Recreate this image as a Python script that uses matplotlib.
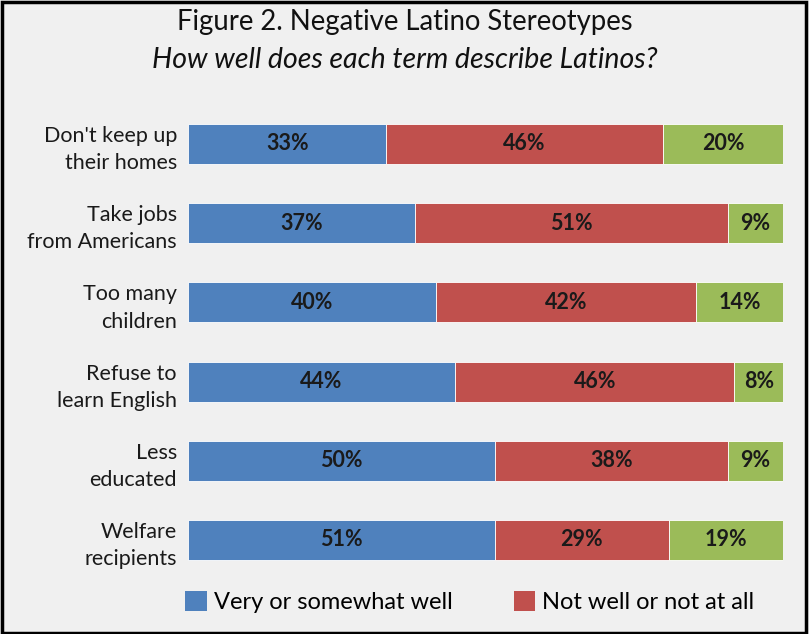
import matplotlib
matplotlib.use("Agg")
import matplotlib.pyplot as plt
from matplotlib.patches import Patch, Rectangle
import numpy as np

# values
categories = [
    "Don't keep up\ntheir homes",
    "Take jobs\nfrom Americans",
    "Too many\nchildren",
    "Refuse to\nlearn English",
    "Less\neducated",
    "Welfare\nrecipients",
]
well = [33, 37, 40, 44, 50, 51]
not_well = [46, 51, 42, 46, 38, 29]
other = [20, 9, 14, 8, 9, 19]

series_names = ["Very or somewhat well", "Not well or not at all", "Other"]
colors = ["#4f81bd", "#c0504d", "#9bbb59"]

BG = "#f0f0f0"
BODY = ["Lato", "DejaVu Sans"]

fig = plt.figure(figsize=(8.09, 6.34), dpi=100, facecolor=BG)
ax = fig.add_axes([188 / 809, 1 - 579.6 / 634, (783 - 188) / 809, 475.2 / 634])
ax.set_facecolor(BG)

vals = np.array([well, not_well, other], dtype=float)
shares = vals / vals.sum(axis=0) * 100   # bars are drawn normalized to 100%
y = np.arange(len(categories))
left = np.zeros(len(categories))
for k in range(3):
    ax.barh(y, shares[k], left=left, height=0.505, color=colors[k],
            edgecolor="white", linewidth=0.6)
    for i in range(len(categories)):
        ax.text(left[i] + shares[k][i] / 2, y[i], f"{int(vals[k][i])}%",
                ha="center", va="center", fontsize=15.5, fontweight="bold",
                color="#1a1a1a", family=BODY)
    left += shares[k]

ax.set_xlim(0, 100)
ax.set_ylim(len(categories) - 0.5, -0.5)
ax.set_yticks(y)
ax.set_yticklabels(categories, fontsize=15.5, color="#1a1a1a", family=BODY,
                   linespacing=1.45)
ax.tick_params(axis="y", length=0, pad=8)
ax.set_xticks([])
for s in ax.spines.values():
    s.set_visible(False)

fig.text(0.5, 1 - 22 / 634, "Figure 2. Negative Latino Stereotypes",
         ha="center", va="center", fontsize=19.8, family=BODY, color="#111111")
fig.text(0.5, 1 - 60 / 634, "How well does each term describe Latinos?",
         ha="center", va="center", fontsize=20.5, style="italic", family=BODY,
         color="#111111")

handles = [Patch(facecolor=colors[k]) for k in range(2)]
leg = fig.legend(handles, series_names[:2], loc="center left",
                 bbox_to_anchor=(164 / 809, 1 - 602 / 634), ncol=2,
                 frameon=False, handlelength=0.9, handleheight=0.9,
                 handletextpad=0.3, columnspacing=2.6,
                 prop={"family": BODY, "size": 17})

fig.patches.append(Rectangle((0.002, 0.002), 0.994, 0.995, transform=fig.transFigure,
                             fill=False, edgecolor="black", linewidth=2.5))

fig.savefig("out.png", dpi=100, facecolor=BG)
